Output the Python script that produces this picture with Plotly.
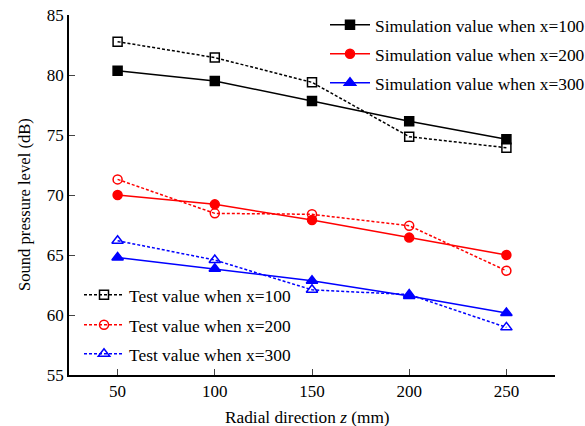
import plotly.graph_objects as go

z = [50, 100, 150, 200, 250]
sim_100 = [80.35, 79.5, 77.83, 76.14, 74.64]
sim_200 = [70.0, 69.22, 67.92, 66.45, 65.0]
sim_300 = [64.8, 63.86, 62.86, 61.58, 60.17]
test_100 = [82.78, 81.45, 79.39, 74.86, 73.94]
test_200 = [71.3, 68.47, 68.39, 67.44, 63.69]
test_300 = [66.19, 64.58, 62.1, 61.7, 58.97]

FONT = "Liberation Serif"

series = [
    ("Simulation value when x=100", sim_100, "black", "square", "solid", "legend"),
    ("Simulation value when x=200", sim_200, "red", "circle", "solid", "legend2"),
    ("Simulation value when x=300", sim_300, "blue", "triangle-up", "solid", "legend3"),
    ("Test value when x=100", test_100, "black", "square-open", "3px,2px", "legend4"),
    ("Test value when x=200", test_200, "red", "circle-open", "3px,2px", "legend5"),
    ("Test value when x=300", test_300, "blue", "triangle-up-open", "3px,2px", "legend6"),
]

fig = go.Figure()
for name, vals, col, sym, dash, lg in series:
    size = 10 if "triangle" in sym else 9
    fig.add_trace(go.Scatter(
        x=z, y=vals, name=name, mode="lines+markers",
        line=dict(color=col, width=1.5, dash=dash),
        marker=dict(symbol=sym, size=size, color=col,
                    line=dict(color=col, width=1.5)),
        legend=lg, showlegend=True,
    ))

W, H = 585, 426
L, R, T, B = 69, 30, 15, 51
PW, PH = W - L - R, H - T - B

def py(ypix):
    return (H - B - ypix) / PH

def px(xpix):
    return (xpix - L) / PW

def leg(x, y):
    return dict(font=dict(family=FONT, size=17.4, color="black"),
                bgcolor="rgba(0,0,0,0)", xanchor="left", yanchor="middle",
                xref="paper", yref="paper", borderwidth=0, x=x, y=y,
                itemwidth=40)

tops = [25, 54, 83]
bots = [295, 325, 354]

fig.update_layout(
    width=W, height=H,
    margin=dict(l=L, r=R, t=T, b=B, autoexpand=False),
    paper_bgcolor="white", plot_bgcolor="white",
    font=dict(family=FONT, size=17, color="black"),
    showlegend=True,
    legend=leg(px(325), py(tops[0])),
    legend2=leg(px(325), py(tops[1])),
    legend3=leg(px(325), py(tops[2])),
    legend4=leg(px(79), py(bots[0])),
    legend5=leg(px(79), py(bots[1])),
    legend6=leg(px(79), py(bots[2])),
    xaxis=dict(range=[25, 275], tickvals=z, ticks="inside", ticklen=6,
               showline=True, linecolor="black", linewidth=1.5, showgrid=False,
               zeroline=False, tickfont=dict(family=FONT, size=17)),
    yaxis=dict(range=[55, 85], tickvals=[55, 60, 65, 70, 75, 80, 85], ticks="inside", ticklen=6,
               showline=True, linecolor="black", linewidth=1.5, showgrid=False,
               zeroline=False, tickfont=dict(family=FONT, size=17)),
    annotations=[
        dict(text="Radial direction <i>z</i> (mm)", xref="paper", yref="paper",
             x=px(307), y=py(417), xanchor="center", yanchor="middle", showarrow=False,
             font=dict(family=FONT, size=17.3, color="black")),
        dict(text="Sound pressure level (dB)", xref="paper", yref="paper",
             x=px(24), y=py(205), xanchor="center", yanchor="middle", showarrow=False,
             textangle=-90, font=dict(family=FONT, size=16.6, color="black")),
    ],
)

fig.write_html("out.html", config={"displayModeBar": False},
               post_script="document.body.style.margin='0';document.body.style.padding='0';")
